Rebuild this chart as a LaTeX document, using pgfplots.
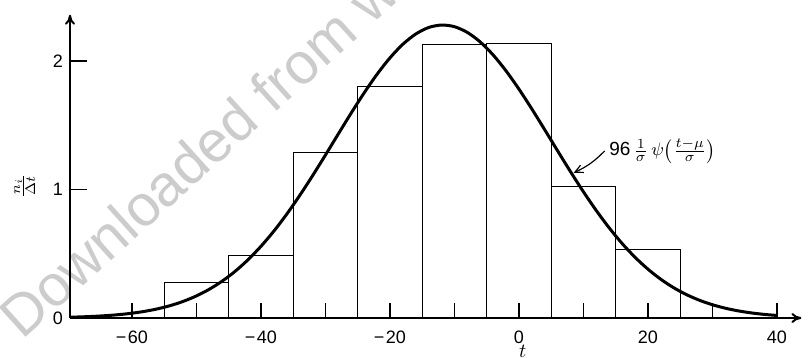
\documentclass[border=0pt]{standalone}
\usepackage{pgfplots}
\pgfplotsset{compat=1.18}
\usepackage{graphicx}
\usepackage{fontspec}
\setmainfont{Liberation Sans}
\usetikzlibrary{arrows.meta}
\begin{document}
\begin{tikzpicture}
\useasboundingbox (-35pt,-20pt) rectangle (369pt,159pt);
% watermark
\node[anchor=base west, rotate=42, text=black!20, font=\fontsize{29}{30}\selectfont, inner sep=0pt] at (-24pt,-11.5pt) {Downloaded from w};
\begin{axis}[
  x=3.225pt, y=64.25pt,
  xmin=-69.6, xmax=43.8, ymin=0, ymax=2.36,
  enlargelimits=false,
  axis lines=left,
  axis line style={line width=1pt, -{To[length=5pt,width=5pt]}},
  tick align=inside,
  xtick={-60,-50,...,40},
  xticklabels={−\kern0.8pt60,,−\kern0.8pt40,,−\kern0.8pt20,,0,,20,,40},
  ytick={0,1,2},
  yticklabels={0,1,2},
  xtick style={line width=0.7pt, black, /pgfplots/major tick length=7.5pt},
  ytick style={line width=0.8pt, black, /pgfplots/major tick length=8.5pt},
  tick label style={font=\fontsize{9}{10}\selectfont},
  xticklabel style={yshift=-3pt},
  xlabel={$t$},
  xlabel style={at={(axis description cs:0.619,0)}, anchor=center, yshift=-16.5pt},
  ylabel={\rotatebox{90}{$\frac{n_i}{\Delta t}$}},
  every axis y label/.style={at={(axis description cs:-0.062,0.435)}, anchor=center},
  clip=false,
]
\addplot[ybar interval, draw=black, fill=none, line width=0.5pt] coordinates {
  (-55,0.28) (-45,0.49) (-35,1.29) (-25,1.805) (-15,2.125) (-5,2.14) (5,1.02) (15,0.53) (25,0)
};
\addplot[black, line width=1.5pt, smooth, mark=none] coordinates {
  (-69.6,0.0060) (-68,0.0085) (-66,0.0125) (-64,0.0183) (-62,0.0263) (-60,0.0372)
  (-58,0.0520) (-56,0.0716) (-54,0.0972) (-52,0.1302) (-50,0.1719) (-48,0.2238)
  (-46,0.2871) (-44,0.3632) (-42,0.4533) (-40,0.5575) (-38,0.6758) (-36,0.8078)
  (-34,0.9524) (-32,1.1067) (-30,1.2679) (-28,1.4323) (-26,1.5953) (-24,1.7515)
  (-22,1.8963) (-20,2.0240) (-18,2.1300) (-16,2.2098) (-14,2.2605) (-12,2.2798)
  (-10,2.2670) (-8,2.2224) (-6,2.1481) (-4,2.0471) (-2,1.9233) (0,1.7816)
  (2,1.6271) (4,1.4652) (6,1.3007) (8,1.1385) (10,0.9824) (12,0.8359)
  (14,0.7012) (16,0.5799) (18,0.4728) (20,0.3802) (22,0.3013) (24,0.2354)
  (26,0.1814) (28,0.1378) (30,0.1032) (32,0.0762) (34,0.0555) (36,0.0398)
  (38,0.0282) (40,0.0197)
};
\node[anchor=west, inner sep=0pt, font=\fontsize{9.5}{11}\selectfont] at (axis cs:13.95,1.30)
  {96\,$\frac{1}{\sigma}\,\psi\!\left(\frac{t-\mu}{\sigma}\right)$};
\draw[line width=0.6pt, -{Straight Barb[length=4pt,width=4pt]}] (axis cs:13.3,1.30) to[bend left=10] (axis cs:8.5,1.13);
\end{axis}
\end{tikzpicture}
\end{document}
